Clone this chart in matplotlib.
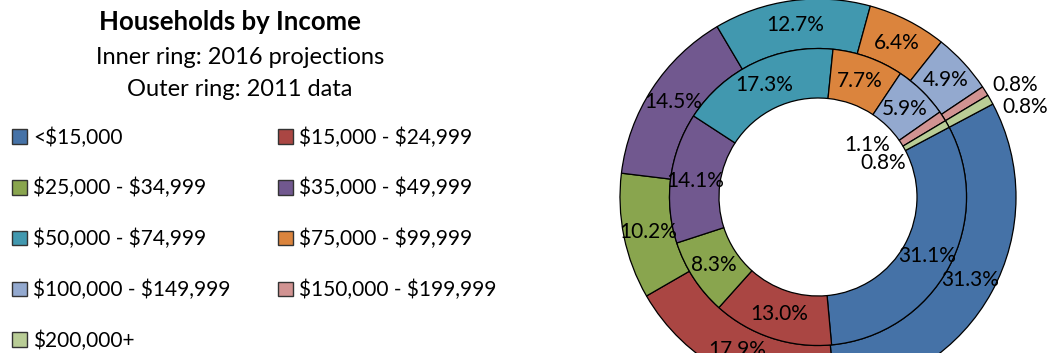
import numpy as np
import matplotlib
matplotlib.use("Agg")
import matplotlib.pyplot as plt
from matplotlib.patches import Patch

plt.rcParams['font.family'] = ['Lato', 'DejaVu Sans']
plt.rcParams['text.parse_math'] = False   # dollar signs are literal here

categories = ['<$15,000', '$15,000 - $24,999', '$25,000 - $34,999', '$35,000 - $49,999',
              '$50,000 - $74,999', '$75,000 - $99,999', '$100,000 - $149,999',
              '$150,000 - $199,999', '$200,000+']
share_2011 = [31.3, 17.9, 10.2, 14.5, 12.7, 6.4, 4.9, 0.8, 0.8]   # outer ring
share_2016 = [31.1, 13.0, 8.3, 14.1, 17.3, 7.7, 5.9, 1.1, 0.8]    # inner ring
colors = ['#4572A7', '#AA4643', '#89A54E', '#71588F', '#4198AF',
          '#DB843D', '#93A9CF', '#D19392', '#B9CD96']

W, H = 1047, 353
fig = plt.figure(figsize=(W / 100, H / 100), dpi=100)

# doughnut axes: centre at (818, 197) px from top-left, radius 198 px
cx, cy, R = 818, 197, 198
ax = fig.add_axes([(cx - R) / W, (H - cy - R) / H, 2 * R / W, 2 * R / H])

wp = dict(width=0.25, edgecolor='black', linewidth=0.9)
outer, _ = ax.pie(share_2011, radius=1.0, startangle=28, counterclock=False,
                  colors=colors, wedgeprops=wp)
inner, _ = ax.pie(share_2016, radius=0.75, startangle=28, counterclock=False,
                  colors=colors, wedgeprops=wp)
ax.set_xlim(-1, 1)
ax.set_ylim(-1, 1)
ax.set_aspect('equal')
ax.axis('off')

fs = 15


def label_ring(wedges, values, r, nudges):
    for i, (w, v) in enumerate(zip(wedges, values)):
        mid = np.deg2rad((w.theta1 + w.theta2) / 2)
        rr, da, ha = nudges.get(i, (r, 0, 'center'))
        a = mid + np.deg2rad(da)
        ax.text(rr * np.cos(a), rr * np.sin(a), f'{v:.1f}%', ha=ha, va='center',
                fontsize=fs, color='black')


# the two thin slices get pushed apart so their labels don't collide
label_ring(outer, share_2011, 0.875, {7: (1.045, 0.4, 'left'), 8: (1.035, -3.4, 'left')})
label_ring(inner, share_2016, 0.625, {7: (0.36, 14, 'center'), 8: (0.37, -2, 'center')})

# title block
fig.text(230 / W, 1 - 22 / H, 'Households by Income', ha='center', va='center',
         fontsize=18.5, fontweight='bold')
fig.text(240 / W, 1 - 58 / H, 'Inner ring: 2016 projections', ha='center', va='center',
         fontsize=17)
fig.text(240 / W, 1 - 90 / H, 'Outer ring: 2011 data', ha='center', va='center',
         fontsize=17)

handles = [Patch(facecolor=c, edgecolor='#333333', linewidth=1) for c in colors]
order = [0, 2, 4, 6, 8, 1, 3, 5, 7]
fig.legend([handles[i] for i in order], [categories[i] for i in order],
           ncol=2, frameon=False, loc='upper left',
           bbox_to_anchor=(4 / W, 1 - 119 / H), fontsize=15,
           handlelength=0.7, handleheight=0.7, handletextpad=0.3,
           labelspacing=1.46, columnspacing=2.3, borderaxespad=0)

fig.savefig('out.png', dpi=100)
